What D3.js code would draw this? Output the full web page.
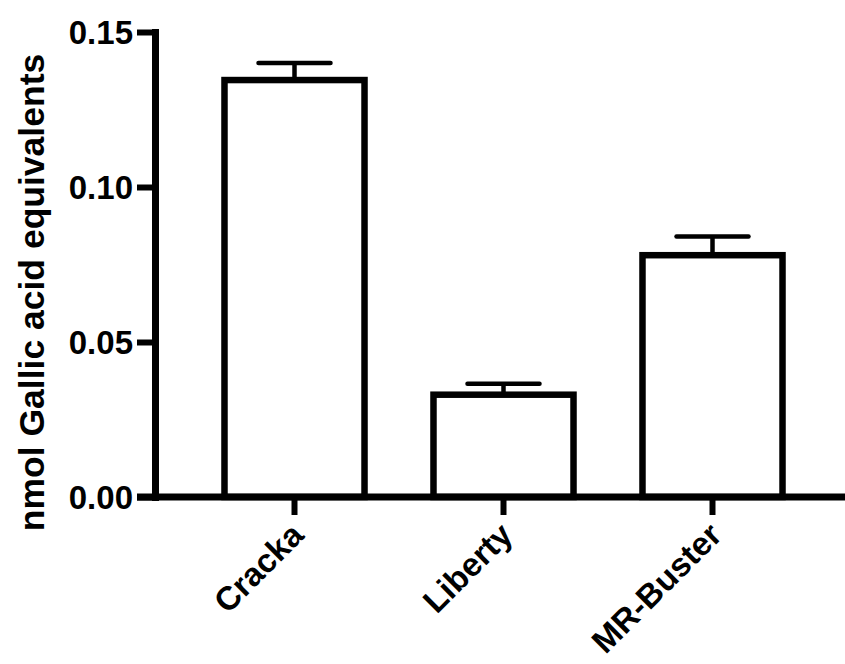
<!DOCTYPE html>
<html>
<head>
<meta charset="utf-8">
<script src="https://cdn.jsdelivr.net/npm/d3@7"></script>
<style>
  html, body { margin: 0; padding: 0; background: #fff; }
  svg { display: block; }
  text { font-family: "Liberation Sans", Arial, Helvetica, sans-serif; font-weight: bold; fill: #000; }
</style>
</head>
<body>
<svg id="chart" width="845" height="664"></svg>
<script>
// ---- data ----
const categories = ["Cracka", "Liberty", "MR-Buster"];
const means = [0.1345, 0.0330, 0.0780];
const errors = [0.0055, 0.0035, 0.0060];
const yTicks = [0.00, 0.05, 0.10, 0.15];
const yLabel = "nmol Gallic acid equivalents";

// ---- layout ----
const W = 845, H = 664;
const axisX = 155, axisY = 497, topY = 32;
const svg = d3.select("#chart");

const y = d3.scaleLinear().domain([0, 0.15]).range([axisY, topY]);
const x = d3.scaleBand().domain(categories).range([190, 817])
  .paddingInner(0.33).paddingOuter(0.165);

const black = "#000";

// bars
svg.append("g").selectAll("rect").data(categories).join("rect")
  .attr("x", d => x(d))
  .attr("y", (d, i) => y(means[i]))
  .attr("width", x.bandwidth())
  .attr("height", (d, i) => y(0) - y(means[i]))
  .attr("fill", "#fff")
  .attr("stroke", black)
  .attr("stroke-width", 6.5);

// error bars (upper only)
const eb = svg.append("g");
eb.selectAll("line.stem").data(categories).join("line")
  .attr("class", "stem")
  .attr("x1", d => x(d) + x.bandwidth() / 2)
  .attr("x2", d => x(d) + x.bandwidth() / 2)
  .attr("y1", (d, i) => y(means[i]))
  .attr("y2", (d, i) => y(means[i] + errors[i]))
  .attr("stroke", black).attr("stroke-width", 4.5);
eb.selectAll("line.cap").data(categories).join("line")
  .attr("class", "cap")
  .attr("x1", d => x(d) + x.bandwidth() / 2 - 36)
  .attr("x2", d => x(d) + x.bandwidth() / 2 + 36)
  .attr("y1", (d, i) => y(means[i] + errors[i]))
  .attr("y2", (d, i) => y(means[i] + errors[i]))
  .attr("stroke", black).attr("stroke-width", 4.5)
  .attr("stroke-linecap", "round");

// x axis
svg.append("line")
  .attr("x1", 137).attr("x2", W)
  .attr("y1", axisY).attr("y2", axisY)
  .attr("stroke", black).attr("stroke-width", 7);

const gx = svg.append("g").attr("transform", `translate(0,${axisY})`)
  .call(d3.axisBottom(x).tickSize(18).tickSizeOuter(0));
gx.select(".domain").remove();
gx.selectAll(".tick line").attr("stroke", black).attr("stroke-width", 6);
gx.selectAll(".tick text")
  .attr("font-size", 33)
  .attr("text-anchor", "end")
  .attr("dy", 0)
  .attr("y", 0)
  .attr("transform", "translate(11,40) rotate(-45)");

// y axis
const gy = svg.append("g").attr("transform", `translate(${axisX},0)`)
  .call(d3.axisLeft(y).tickValues(yTicks).tickFormat(d3.format(".2f"))
    .tickSize(18).tickSizeOuter(0).tickPadding(4));
gy.select(".domain").attr("stroke", black).attr("stroke-width", 7)
  .attr("stroke-linecap", "square");
gy.selectAll(".tick line").attr("stroke", black).attr("stroke-width", 6);
gy.selectAll(".tick text").attr("font-size", 33).attr("dy", "0.36em");

// y label
svg.append("text")
  .attr("transform", `translate(44,${(topY + axisY) / 2 + 28}) rotate(-90)`)
  .attr("text-anchor", "middle")
  .attr("font-size", 35.5)
  .text(yLabel);
</script>
</body>
</html>
